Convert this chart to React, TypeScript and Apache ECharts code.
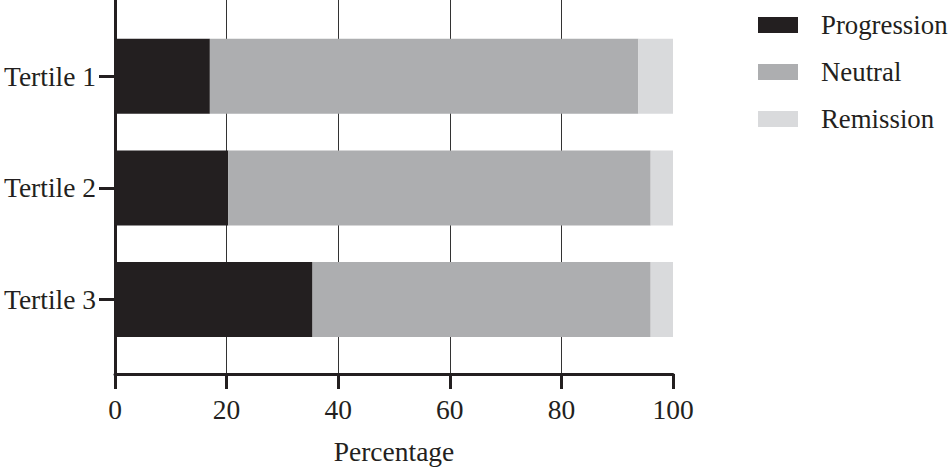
import { useEffect, useRef } from 'react'
import * as echarts from 'echarts'

const categories = ['Tertile 1', 'Tertile 2', 'Tertile 3']
const progression = [17, 20.3, 35.4]
const neutral = [76.8, 75.7, 60.6]
const remission = [6.2, 4, 4]
const xTicks = [0, 20, 40, 60, 80, 100]

const FONT = 'Liberation Serif'
const INK = '#231f20'

export default function App() {
  const chartRef = useRef<HTMLDivElement>(null)

  useEffect(() => {
    if (!chartRef.current) return
    const chart = echarts.init(chartRef.current, undefined, { renderer: 'svg' })

    const option: echarts.EChartsOption = {
      animation: false,
      textStyle: { fontFamily: FONT, color: INK },
      legend: {
        orient: 'vertical',
        left: 758,
        top: 11,
        padding: 0,
        itemWidth: 40,
        itemHeight: 16,
        itemGap: 19,
        icon: 'rect',
        selectedMode: false,
        textStyle: { fontFamily: FONT, fontSize: 26.8, lineHeight: 28, color: INK, padding: [0, 0, 0, 18] },
        data: ['Progression', 'Neutral', 'Remission']
      },
      grid: [
        // frame: axis lines, gridlines, x ticks
        { left: 115, right: 277, top: 0, height: 374 },
        // bars
        { left: 115, right: 277, top: 20.4, height: 335 }
      ],
      xAxis: [
        {
          gridIndex: 0,
          type: 'value',
          min: xTicks[0],
          max: xTicks[xTicks.length - 1],
          interval: 20,
          name: 'Percentage',
          nameLocation: 'middle',
          nameGap: 63,
          nameTextStyle: { fontFamily: FONT, fontSize: 27.5, color: INK },
          axisLine: { show: true, lineStyle: { color: INK, width: 3 } },
          axisTick: { show: true, length: 15, lineStyle: { color: INK, width: 3 } },
          axisLabel: { fontFamily: FONT, fontSize: 27.5, color: INK, margin: 21 },
          splitLine: { show: true, showMinLine: false, showMaxLine: false, lineStyle: { color: '#333', width: 1 } }
        },
        { gridIndex: 1, type: 'value', min: 0, max: 100, show: false }
      ],
      yAxis: [
        {
          gridIndex: 0,
          type: 'value',
          min: 0,
          max: 1,
          axisLine: { show: true, lineStyle: { color: INK, width: 3 } },
          axisTick: { show: false },
          axisLabel: { show: false },
          splitLine: { show: false }
        },
        {
          gridIndex: 1,
          type: 'category',
          inverse: true,
          data: categories,
          axisLine: { show: false },
          axisTick: { show: true, alignWithLabel: true, length: 16, lineStyle: { color: INK, width: 3 } },
          axisLabel: { fontFamily: FONT, fontSize: 27.5, color: INK, margin: 19 },
          splitLine: { show: false }
        }
      ],
      series: [
        { name: 'Progression', type: 'bar', stack: 'all', xAxisIndex: 1, yAxisIndex: 1, barWidth: 75, itemStyle: { color: INK }, data: progression },
        { name: 'Neutral', type: 'bar', stack: 'all', xAxisIndex: 1, yAxisIndex: 1, barWidth: 75, itemStyle: { color: '#adaeb0' }, data: neutral },
        { name: 'Remission', type: 'bar', stack: 'all', xAxisIndex: 1, yAxisIndex: 1, barWidth: 75, itemStyle: { color: '#d9dadc' }, data: remission }
      ]
    }

    chart.setOption(option)

    return () => {
      chart.dispose()
    }
  }, [])

  return (
    <div
      ref={chartRef}
      style={{ position: 'fixed', left: 0, top: 0, width: 950, height: 471, background: '#fff' }}
    />
  )
}
